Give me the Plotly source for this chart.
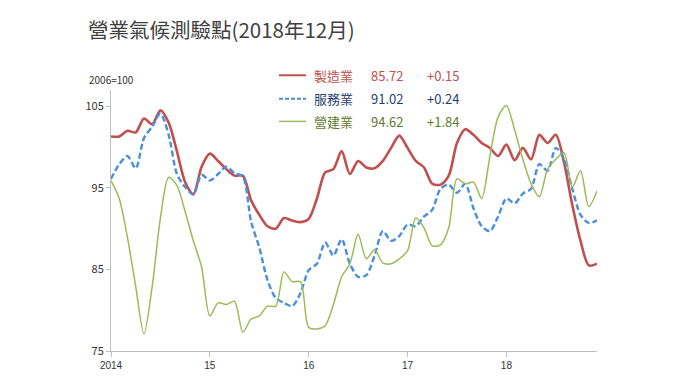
import plotly.graph_objects as go

months = list(range(60))  # Jan 2014 .. Dec 2018
tick_vals = [0, 12, 24, 36, 48]
tick_text = ["2014", "15", "16", "17", "18"]

manufacturing = [101.3, 101.3, 102.0, 101.8, 103.5, 102.8, 104.5, 103.0, 99.5, 95.7,
                 94.2, 97.6, 99.2, 98.3, 97.3, 96.5, 96.5, 93.5, 91.7, 90.3,
                 90.0, 91.3, 91.0, 90.8, 91.2, 93.7, 96.9, 97.3, 99.5, 96.7,
                 98.3, 97.5, 97.4, 98.3, 99.9, 101.4, 99.9, 98.3, 97.5, 95.5,
                 95.4, 96.5, 100.5, 102.2, 101.5, 100.5, 99.9, 98.9, 100.3, 98.4,
                 99.9, 98.5, 101.5, 100.5, 101.5, 98.1, 92.9, 88.5, 85.5, 85.72]
services = [96.1, 97.9, 98.9, 97.4, 101.1, 102.5, 104.1, 101.5, 96.7, 95.1,
            94.2, 96.6, 95.9, 96.7, 97.6, 96.8, 96.4, 90.9, 87.7, 83.7,
            81.5, 80.9, 80.5, 82.1, 84.9, 85.7, 88.3, 86.7, 88.7, 85.7,
            84.1, 84.3, 86.7, 89.7, 88.5, 89.1, 90.5, 90.3, 91.5, 92.3,
            94.9, 95.4, 94.4, 95.5, 92.5, 90.3, 89.7, 91.5, 93.7, 93.1,
            94.3, 94.9, 97.9, 97.1, 99.9, 98.5, 94.9, 91.7, 90.7, 91.02]
construction = [95.9, 93.7, 88.9, 82.9, 77.1, 82.9, 91.3, 96.3, 95.3, 92.1,
                88.5, 85.3, 79.3, 80.9, 80.7, 81.1, 77.3, 78.9, 79.3, 80.5,
                80.5, 84.7, 83.5, 83.5, 77.9, 77.7, 78.1, 80.7, 84.1, 85.7,
                89.3, 86.3, 87.4, 85.8, 85.7, 86.3, 87.3, 91.3, 90.1, 87.9,
                88.0, 90.1, 96.1, 95.5, 95.7, 93.7, 98.9, 103.7, 105.1, 102.1,
                98.5, 95.5, 93.9, 97.3, 98.5, 99.3, 95.1, 97.1, 92.7, 94.62]

names = ["製造業", "服務業", "營建業"]
latest = ["85.72", "91.02", "94.62"]
changes = ["+0.15", "+0.24", "+1.84"]
line_colors = ["#c0504d", "#4a8fdc", "#9bbb59"]
text_colors = ["#c0504d", "#1f3f6e", "#5f7a2e"]
dashes = ["solid", "6px,3px", "solid"]
widths = [2.6, 2.4, 1.5]
series = [manufacturing, services, construction]

FONT = "Noto Sans CJK TC"

# the page body adds an 8px margin; the figure is laid out in window pixels minus that offset
OFF = 8
W, H = 680 - OFF, 383 - OFF
L, R, T, B = 111 - OFF, 597 - OFF, 90 - OFF, 356 - OFF

fig = go.Figure()
for s, c, d, w, n in zip(series, line_colors, dashes, widths, names):
    fig.add_trace(go.Scatter(x=months, y=s, mode="lines", name=n,
                             line=dict(color=c, dash=d, width=w, shape="spline", smoothing=0.8),
                             showlegend=False))


def px_x(px):
    return (px - OFF - L) / (R - L)


def px_y(py):
    return (B - (py - OFF)) / (B - T)


legend_rows_y = [75, 99, 122]
for i in range(3):
    yy = px_y(legend_rows_y[i])
    fig.add_shape(type="line", xref="paper", yref="paper",
                  x0=px_x(279), x1=px_x(306), y0=yy, y1=yy,
                  line=dict(color=line_colors[i], dash="4px,2px" if i == 1 else "solid",
                            width=2 if i < 2 else 1.5))
    fig.add_annotation(xref="paper", yref="paper", x=px_x(312), y=yy, xanchor="left", yanchor="middle",
                       text=names[i], showarrow=False, font=dict(family=FONT, size=13, color=text_colors[i]))
    fig.add_annotation(xref="paper", yref="paper", x=px_x(369), y=yy, xanchor="left", yanchor="middle",
                       text=latest[i], showarrow=False, font=dict(family=FONT, size=13, color=text_colors[i]))
    fig.add_annotation(xref="paper", yref="paper", x=px_x(425), y=yy, xanchor="left", yanchor="middle",
                       text=changes[i], showarrow=False, font=dict(family=FONT, size=13, color=text_colors[i]))

fig.add_annotation(xref="paper", yref="paper", x=px_x(87), y=px_y(79), xanchor="left", yanchor="middle",
                   text="2006=100", showarrow=False, font=dict(family=FONT, size=10, color="#333333"))

fig.update_layout(
    width=W, height=H,
    margin=dict(l=L, r=W - R, t=T, b=H - B),
    paper_bgcolor="white", plot_bgcolor="white",
    title=dict(text="營業氣候測驗點(2018年12月)", x=(88 - OFF) / W, xanchor="left", xref="container",
               y=1 - (31 - OFF) / H, yanchor="middle", yref="container",
               font=dict(family=FONT, size=20.5, color="#404040")),
    font=dict(family=FONT, color="#333333"),
)
fig.update_xaxes(range=[0, 59], tickvals=tick_vals, ticktext=tick_text, showgrid=False, zeroline=False,
                 showline=True, linecolor="#bfbfbf", linewidth=1, ticks="outside", ticklen=5,
                 tickcolor="#bfbfbf", tickfont=dict(family="Liberation Sans", size=10, color="#333333"))
fig.update_yaxes(range=[75, 107], tickvals=[75, 85, 95, 105], showgrid=False, zeroline=False,
                 showline=True, linecolor="#bfbfbf", linewidth=1, ticks="outside", ticklen=4,
                 tickcolor="#bfbfbf", tickfont=dict(family=FONT, size=11, color="#333333"))

fig.write_html("out.html")
